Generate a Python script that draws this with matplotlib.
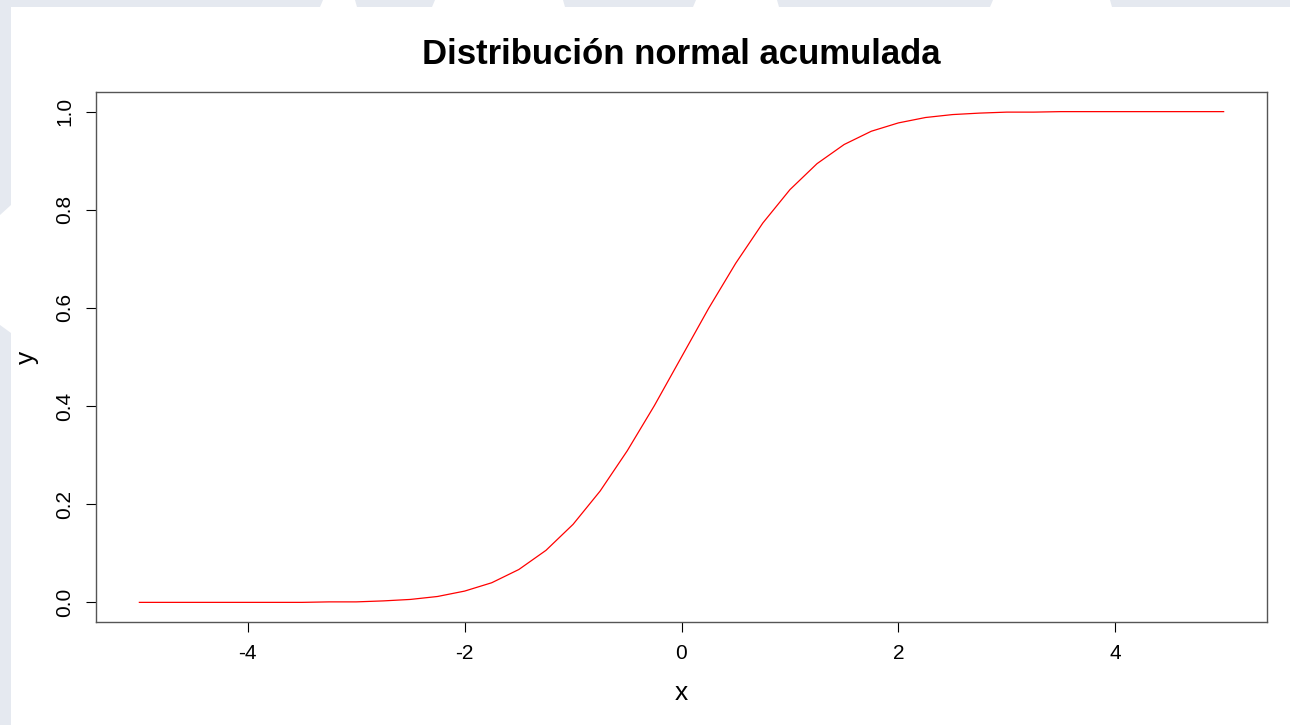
import matplotlib.pyplot as plt
from matplotlib.patches import Polygon

plt.rcParams['font.family'] = ['Liberation Sans', 'DejaVu Sans']

# normal CDF, sampled every 0.25
x = [-5.0, -4.75, -4.5, -4.25, -4.0, -3.75, -3.5, -3.25, -3.0, -2.75,
     -2.5, -2.25, -2.0, -1.75, -1.5, -1.25, -1.0, -0.75, -0.5, -0.25,
     0.0, 0.25, 0.5, 0.75, 1.0, 1.25, 1.5, 1.75, 2.0, 2.25,
     2.5, 2.75, 3.0, 3.25, 3.5, 3.75, 4.0, 4.25, 4.5, 4.75, 5.0]
y = [0.000, 0.000, 0.000, 0.000, 0.000, 0.000, 0.000, 0.001, 0.001, 0.003,
     0.006, 0.012, 0.023, 0.040, 0.067, 0.106, 0.159, 0.227, 0.309, 0.401,
     0.500, 0.599, 0.691, 0.773, 0.841, 0.894, 0.933, 0.960, 0.977, 0.988,
     0.994, 0.997, 0.999, 0.999, 1.000, 1.000, 1.000, 1.000, 1.000, 1.000, 1.000]

W, H = 1290, 725
fig = plt.figure(figsize=(W / 100, H / 100), dpi=100)
fig.patch.set_facecolor('white')

# pale banner strips along the top and left edges
band = '#e5e9f0'
def px_poly(pts):
    return Polygon([(px / W, 1 - py / H) for px, py in pts], closed=True,
                   transform=fig.transFigure, facecolor=band, edgecolor='none', zorder=0)

top_segments = [(0, 320), (355, 432), (563, 693), (777, 990), (1110, 1290)]
for a, b in top_segments:
    fig.patches.append(px_poly([(a, 0), (b + 3, 0), (b, 7), (a + 2, 7)]))
fig.patches.append(px_poly([(0, 0), (11, 0), (11, 205), (0, 215)]))
fig.patches.append(px_poly([(0, 325), (11, 333), (11, 725), (0, 725)]))

ax = fig.add_axes([96 / W, (H - 622) / H, (1267 - 96) / W, (622 - 92) / H])
ax.plot(x, y, color='red', linewidth=0.9)

ax.set_xlim(-5.4, 5.4)
ax.set_ylim(-0.04, 1.04)
ax.set_xticks([-4, -2, 0, 2, 4])
ax.set_xticklabels(['-4', '-2', '0', '2', '4'])
ax.set_yticks([0.0, 0.2, 0.4, 0.6, 0.8, 1.0])
ax.set_yticklabels(['0.0', '0.2', '0.4', '0.6', '0.8', '1.0'], rotation=90, va='center')

for s in ax.spines.values():
    s.set_color('#555555')
    s.set_linewidth(1.0)
ax.tick_params(direction='out', length=7.5, width=0.8, colors='black',
               labelsize=15, pad=8)

ax.set_xlabel('x', fontsize=19, labelpad=13)
ax.set_ylabel('y', fontsize=19, labelpad=12)
ax.set_title('Distribución normal acumulada', fontsize=25, fontweight='bold', pad=20)

fig.savefig('out.png', dpi=100)
